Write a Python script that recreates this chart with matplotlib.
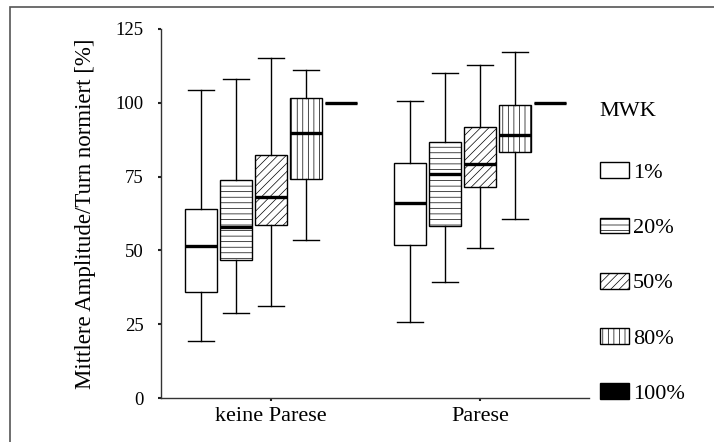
import matplotlib
matplotlib.use("Agg")
import matplotlib.pyplot as plt
from matplotlib.patches import Patch, Rectangle

plt.rcParams['font.family'] = ['Liberation Serif', 'DejaVu Serif']
plt.rcParams['hatch.linewidth'] = 0.5

# Werte (Whisker unten, Q1, Median, Q3, Whisker oben)
gruppen = ['keine Parese', 'Parese']
mwk = ['1%', '20%', '50%', '80%', '100%']
hatches = ['', '---', '////', '|||', '']
faces = ['white', 'white', 'white', 'white', 'black']

whislo = [[19.4, 28.8, 31.3, 53.4, 100], [25.7, 39.3, 50.9, 60.6, 100]]
q1 = [[35.9, 46.7, 58.7, 74.3, 100], [51.7, 58.4, 71.5, 83.2, 100]]
med = [[51.5, 58.0, 68.2, 89.7, 100], [66.1, 75.9, 79.3, 89.2, 100]]
q3 = [[64.1, 73.8, 82.4, 101.7, 100], [79.7, 86.6, 91.8, 99.2, 100]]
whishi = [[104.3, 108.2, 115.1, 111.1, 100], [100.5, 110.1, 112.7, 117.1, 100]]

fig = plt.figure(figsize=(7.14, 4.42), dpi=100)
ax = fig.add_axes([0.2255, 0.0995, 0.5995, 0.835])

abstand = 0.1675
breite = 0.153
for g in range(len(gruppen)):
    for i in range(len(mwk)):
        st = [{'whislo': whislo[g][i], 'q1': q1[g][i], 'med': med[g][i],
               'q3': q3[g][i], 'whishi': whishi[g][i], 'fliers': []}]
        pos = g + 1 + (i - 2) * abstand
        bp = ax.bxp(st, positions=[pos], widths=breite, patch_artist=True,
                    showfliers=False, capwidths=0.124,
                    boxprops=dict(facecolor='white', edgecolor='black', linewidth=1.0),
                    whiskerprops=dict(color='black', linewidth=1.0),
                    capprops=dict(color='black', linewidth=1.0),
                    medianprops=dict(color='black', linewidth=2.4))
        for b in bp['boxes']:
            b.set_hatch(hatches[i])

ax.set_xlim(0.474, 2.522)
ax.set_ylim(0, 125)
ax.set_yticks([0, 25, 50, 75, 100, 125])
ax.set_xticks([1, 2])
ax.set_xticklabels(gruppen, fontsize=16)
ax.tick_params(axis='y', labelsize=13.5, length=2.5, width=1.5, pad=10, color='#222')
ax.tick_params(axis='x', length=2.5, width=1.5, pad=4, color='#222')
ax.set_ylabel('Mittlere Amplitude/Turn normiert [%]', fontsize=16.5, labelpad=14)

for s in ['top', 'right']:
    ax.spines[s].set_visible(False)
for s in ['left', 'bottom']:
    ax.spines[s].set_color('#333')
    ax.spines[s].set_linewidth(1.0)

handles = [Patch(facecolor=faces[i], edgecolor='black', hatch=hatches[i], linewidth=1.0)
           for i in range(len(mwk))]
leg = fig.legend(handles, mwk, loc='upper left', bbox_to_anchor=(0.840, 0.769),
                 frameon=False, fontsize=16, title='MWK', title_fontsize=16,
                 handlelength=1.3, handleheight=0.72, handletextpad=0.2,
                 labelspacing=1.55, borderpad=0, borderaxespad=0)
leg._legend_box.align = 'left'
leg._legend_box.sep += 5  # etwas mehr Abstand unter dem Titel

# grauer Rahmen um die Abbildung
fig.add_artist(Rectangle((10 / 714, -0.05), 1.1, 1 - 6.5 / 442 + 0.05,
                         transform=fig.transFigure, fill=False,
                         edgecolor='#555', linewidth=1.2))

fig.savefig('out.png', dpi=100)
